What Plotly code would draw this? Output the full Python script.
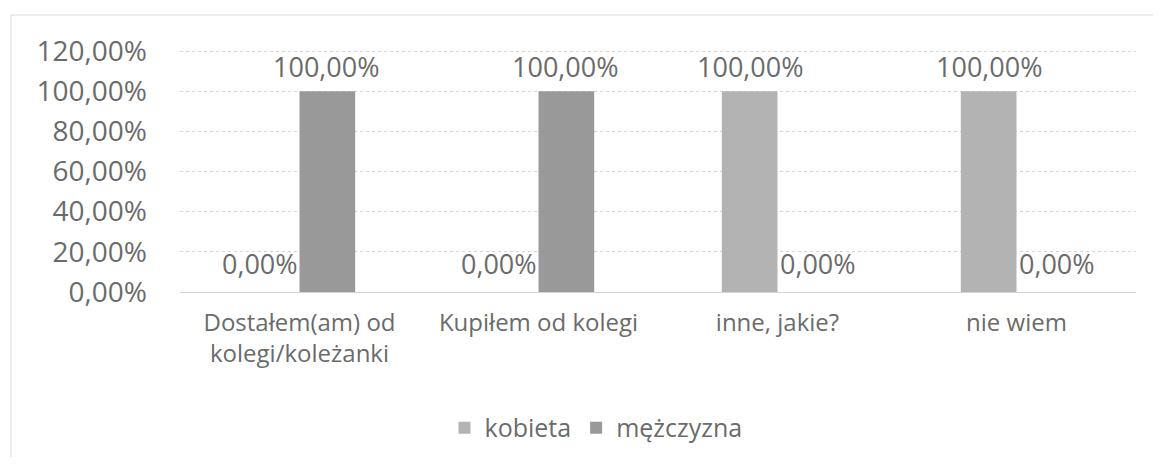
import plotly.graph_objects as go

categories = ["Dostałem(am) od<br>kolegi/koleżanki", "Kupiłem od kolegi", "inne, jakie?", "nie wiem"]
series_names = ["kobieta", "mężczyzna"]
kobieta = [0.0, 0.0, 100.0, 100.0]
mezczyzna = [100.0, 100.0, 0.0, 0.0]
y_ticks = [0, 20, 40, 60, 80, 100, 120]
y_ticklabels = ["0,00%", "20,00%", "40,00%", "60,00%", "80,00%", "100,00%", "120,00%"]

colors = ["#b3b3b3", "#999999"]
text_color = "#6b6b6b"
FONT = "Open Sans"

OFF = 8  # page body margin
W, H = 1161 - 2 * OFF, 465 - 2 * OFF
Y_MAX = 121.5
# plot area in reference (screen) pixels
X0, X1, Y1 = 180, 1136, 292
Y0 = Y1 - (Y1 - 51) * Y_MAX / 120.0
L = X0 - OFF
R = W - (X1 - OFF)
T = Y0 - OFF
B = H - (Y1 - OFF)
pw = W - L - R
ph = H - T - B

fig = go.Figure()
for name, vals, col in zip(series_names, [kobieta, mezczyzna], colors):
    fig.add_trace(go.Bar(x=categories, y=vals, name=name, marker=dict(color=col, line=dict(width=0))))

def fmt(v):
    return f"{v:.2f}".replace(".", ",") + "%"

annotations = []
half_bar = 27
for i, cat in enumerate(categories):
    for s, vals in enumerate([kobieta, mezczyzna]):
        v = vals[i]
        if v > 0:
            annotations.append(dict(x=cat, y=v, xref="x", yref="y", text=fmt(v), showarrow=False,
                                    xshift=(-half_bar if s == 0 else half_bar), yshift=25,
                                    yanchor="middle", xanchor="center",
                                    font=dict(size=27, color=text_color, family=FONT)))
        else:
            annotations.append(dict(x=cat, y=v, xref="x", yref="y", text=fmt(v), showarrow=False,
                                    xshift=0, yshift=29, yanchor="middle",
                                    xanchor=("right" if s == 0 else "left"),
                                    font=dict(size=27, color=text_color, family=FONT)))

def px_x(p):
    return (p - X0) / pw

def px_y(p):
    return (Y1 - p) / ph

fig.update_layout(
    width=W, height=H,
    margin=dict(l=L, r=R, t=T, b=B, autoexpand=False),
    paper_bgcolor="white", plot_bgcolor="white",
    barmode="group", bargap=0.534, bargroupgap=0,
    font=dict(family=FONT, color=text_color),
    showlegend=True,
    legend=dict(orientation="h", x=px_x(596), y=px_y(428), xanchor="center", yanchor="middle",
                font=dict(size=25, color=text_color, family=FONT), traceorder="normal",
                itemwidth=30, bgcolor="rgba(0,0,0,0)"),
    xaxis=dict(showgrid=False, showline=False, zeroline=False, ticks="",
               tickfont=dict(size=24, color=text_color, family=FONT), ticklabelstandoff=14),
    yaxis=dict(range=[0, Y_MAX], tickvals=y_ticks, ticktext=y_ticklabels, showgrid=True,
               gridcolor="#d4d4d4", gridwidth=1, griddash="dot",
               zeroline=True, zerolinecolor="#d4d4d4", zerolinewidth=1,
               showline=False, ticks="",
               tickfont=dict(size=28, color=text_color, family=FONT), ticklabelstandoff=32),
    annotations=annotations,
    shapes=[dict(type="rect", xref="paper", yref="paper", x0=px_x(11), x1=px_x(1175),
                 y0=px_y(490), y1=px_y(15), line=dict(color="#d9d9d9", width=1), layer="below")],
)

fig.write_html("out.html")
